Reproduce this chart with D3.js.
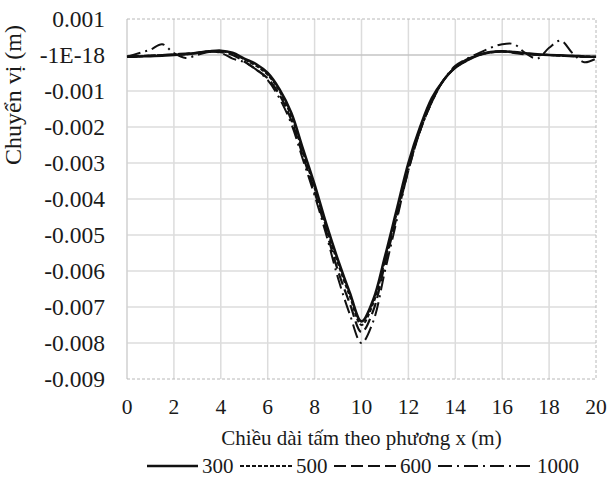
<!DOCTYPE html>
<html lang="vi">
<head>
    <meta charset="UTF-8">
    <title>Chuyen vi</title>
    <script src="https://d3js.org/d3.v7.min.js"></script>
    <style>
        body { margin: 0; background: #fff; }
        text { font-family: "Liberation Serif", "Times New Roman", serif; fill: #1a1a1a; }
    </style>
</head>
<body>
    <div id="my_dataviz"></div>

    <script>
        // data
        const xValues = [0, 0.5, 1, 1.5, 2, 2.5, 3, 3.5, 4, 4.5, 5, 5.5, 6, 6.5, 7, 7.5, 8, 8.5, 9, 9.5, 10,
            10.5, 11, 11.5, 12, 12.5, 13, 13.5, 14, 14.5, 15, 15.5, 16, 16.5, 17, 17.5, 18, 18.5, 19, 19.5, 20];

        const s300 = [-0.00005, -0.00004, -0.00003, -0.00002, 0, 0.00002, 0.00006, 0.0001, 0.00012, 0.00006,
            -0.0001, -0.00025, -0.0005, -0.00095, -0.0016, -0.0026, -0.0036, -0.0047, -0.0057, -0.0066, -0.0074,
            -0.0068, -0.0056, -0.0043, -0.003, -0.002, -0.0012, -0.0007, -0.00035, -0.00015, 0,
            0.00008, 0.0001, 0.00008, 0.00005, 0.00002, 0, -0.00001, -0.00002, -0.00004, -0.00005];

        const s500 = [-0.00005, -0.00004, -0.00002, 0, 0, 0.00002, 0.00006, 0.0001, 0.0001, 0.00004,
            -0.00012, -0.0003, -0.00055, -0.001, -0.0017, -0.0027, -0.0037, -0.0048, -0.0058, -0.0067, -0.0075,
            -0.0069, -0.0057, -0.0044, -0.0031, -0.0021, -0.0013, -0.0007, -0.00035, -0.00015, 0,
            0.00007, 0.0001, 0.00008, 0.00004, 0.00001, 0, -0.00002, -0.00003, -0.00004, -0.00005];

        const s600 = [-0.00005, -0.00003, -0.00002, 0, 0.00002, 0.00004, 0.00006, 0.00009, 0.00008, 0,
            -0.00018, -0.0004, -0.00065, -0.0011, -0.0018, -0.0028, -0.0038, -0.0049, -0.006, -0.0069, -0.0077,
            -0.0071, -0.0058, -0.0045, -0.0032, -0.0021, -0.0013, -0.0007, -0.00035, -0.00012, 0,
            0.00008, 0.0001, 0.00006, 0.00002, 0, 0, -0.00002, -0.00004, -0.00005, -0.00006];

        const s1000 = [-0.00005, 0.00005, 0.00015, 0.0003, 0.00005, -0.00008, 0, 0.00008, 0.00006, -0.0001,
            -0.0002, -0.0004, -0.0007, -0.0012, -0.0019, -0.0029, -0.0039, -0.005, -0.0062, -0.0072, -0.008,
            -0.0074, -0.006, -0.0046, -0.0032, -0.0021, -0.0013, -0.0007, -0.0003, -0.0001, 0.00005,
            0.0002, 0.0003, 0.0003, 0.00005, -0.0001, 0.0002, 0.0004, 0.00005, -0.0002, -0.0001];

        const seriesNames = ["300", "500", "600", "1000"];
        const xTicks = [0, 2, 4, 6, 8, 10, 12, 14, 16, 18, 20];
        const yTicks = [0.001, 0, -0.001, -0.002, -0.003, -0.004, -0.005, -0.006, -0.007, -0.008, -0.009];
        const yTickLabels = ["0.001", "-1E-18", "-0.001", "-0.002", "-0.003", "-0.004", "-0.005",
            "-0.006", "-0.007", "-0.008", "-0.009"];

        const series = [
            { name: seriesNames[0], values: s300, dash: null, w: 2.6 },
            { name: seriesNames[1], values: s500, dash: "4,2", w: 2 },
            { name: seriesNames[2], values: s600, dash: "12,5", w: 2.2 },
            { name: seriesNames[3], values: s1000, dash: "14,5,2,5", w: 2 }
        ];

        const margin = { top: 19, right: 15, bottom: 111, left: 127 },
            width = 611 - margin.left - margin.right,
            height = 490 - margin.top - margin.bottom;

        const root = d3.select("#my_dataviz")
            .append("svg")
            .attr("width", 611)
            .attr("height", 490);

        const svg = root.append("g")
            .attr("transform", `translate(${margin.left},${margin.top})`);

        const x = d3.scaleLinear().domain([0, 20]).range([0, width]);
        const y = d3.scaleLinear().domain([-0.009, 0.001]).range([height, 0]);

        // grid
        svg.append("g")
            .selectAll("line")
            .data(xTicks.slice(1, -1))
            .enter()
            .append("line")
                .attr("x1", d => x(d)).attr("x2", d => x(d))
                .attr("y1", 0).attr("y2", height)
                .attr("stroke", "#dcdcdc").attr("stroke-width", 1.5);

        svg.append("g")
            .selectAll("line")
            .data(yTicks.slice(1, -1))
            .enter()
            .append("line")
                .attr("x1", 0).attr("x2", width)
                .attr("y1", d => y(d)).attr("y2", d => y(d))
                .attr("stroke", d => d === 0 ? "#c4c4c4" : "#dcdcdc").attr("stroke-width", 1.5);

        // frame: left solid, others dashed
        svg.append("line").attr("x1", 0).attr("x2", 0).attr("y1", 0).attr("y2", height)
            .attr("stroke", "#d0d0d0").attr("stroke-width", 1.5);
        svg.append("path")
            .attr("d", `M0,0H${width}V${height}H0`)
            .attr("fill", "none")
            .attr("stroke", "#b8b8b8")
            .attr("stroke-width", 1)
            .attr("stroke-dasharray", "3,2");

        // axis labels
        svg.append("g")
            .selectAll("text")
            .data(xTicks)
            .enter()
            .append("text")
                .attr("x", d => x(d))
                .attr("y", height + 35)
                .attr("text-anchor", "middle")
                .style("font-size", "21.5px")
                .text(d => d);

        svg.append("g")
            .selectAll("text")
            .data(yTicks)
            .enter()
            .append("text")
                .attr("x", -22)
                .attr("y", d => y(d))
                .attr("dy", "0.35em")
                .attr("text-anchor", "end")
                .style("font-size", "23.5px")
                .text((d, i) => yTickLabels[i]);

        svg.append("text")
            .attr("x", width / 2)
            .attr("y", height + 66)
            .attr("text-anchor", "middle")
            .style("font-size", "21px")
            .text("Chiều dài tấm theo phương x (m)");

        root.append("text")
            .attr("transform", "translate(21,95) rotate(-90)")
            .attr("text-anchor", "middle")
            .style("font-size", "24px")
            .text("Chuyển vị (m)");

        // curves
        const line = d3.line()
            .x((d, i) => x(xValues[i]))
            .y(d => y(d))
            .curve(d3.curveCatmullRom);

        svg.append("g")
            .selectAll("path")
            .data(series)
            .enter()
            .append("path")
                .attr("d", d => line(d.values))
                .attr("fill", "none")
                .attr("stroke", "#111")
                .attr("stroke-width", d => d.w)
                .attr("stroke-dasharray", d => d.dash);

        // legend
        const legendItems = [
            { x1: 147, x2: 198, tx: 202 },
            { x1: 240, x2: 292, tx: 296 },
            { x1: 334, x2: 396, tx: 400 },
            { x1: 438, x2: 533, tx: 537 }
        ];
        const legend = root.append("g");
        legend.selectAll("line")
            .data(series)
            .enter()
            .append("line")
                .attr("x1", (d, i) => legendItems[i].x1)
                .attr("x2", (d, i) => legendItems[i].x2)
                .attr("y1", 466).attr("y2", 466)
                .attr("stroke", "#111")
                .attr("stroke-width", d => d.w)
                .attr("stroke-dasharray", d => d.dash);
        legend.selectAll("text")
            .data(series)
            .enter()
            .append("text")
                .attr("x", (d, i) => legendItems[i].tx)
                .attr("y", 466)
                .attr("dy", "0.35em")
                .style("font-size", "21px")
                .text(d => d.name);
    </script>
</body>
</html>
